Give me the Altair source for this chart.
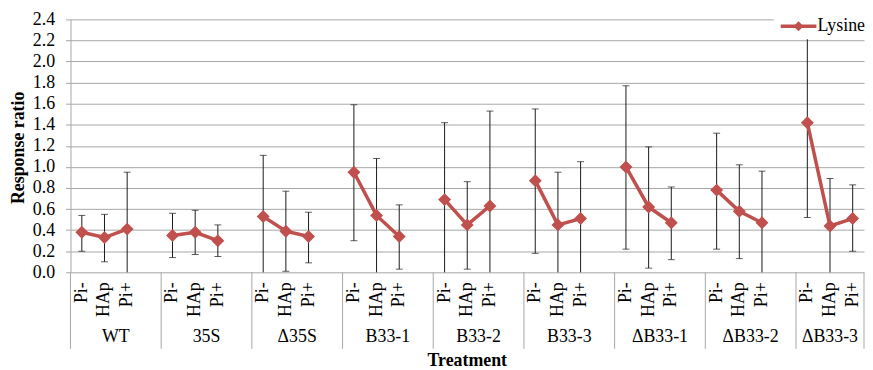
import altair as alt
import pandas as pd

groups = ["WT", "35S", "Δ35S", "B33-1", "B33-2", "B33-3", "ΔB33-1", "ΔB33-2", "ΔB33-3"]
subs = ["Pi-", "HAp", "Pi+"]
values = [0.38, 0.33, 0.41, 0.35, 0.38, 0.30, 0.53, 0.39, 0.34,
          0.95, 0.54, 0.34, 0.69, 0.45, 0.63, 0.87, 0.45, 0.51,
          1.00, 0.62, 0.47, 0.78, 0.58, 0.47, 1.42, 0.44, 0.51]
upper = [0.54, 0.55, 0.95, 0.56, 0.59, 0.45, 1.11, 0.77, 0.57,
         1.59, 1.08, 0.64, 1.42, 0.86, 1.53, 1.55, 0.95, 1.05,
         1.77, 1.19, 0.81, 1.32, 1.02, 0.96, 2.32, 0.89, 0.83]
lower = [0.20, 0.10, 0.00, 0.14, 0.17, 0.15, 0.00, 0.01, 0.09,
         0.30, 0.00, 0.03, 0.00, 0.03, 0.00, 0.18, 0.00, 0.00,
         0.22, 0.04, 0.12, 0.22, 0.13, 0.00, 0.52, 0.00, 0.20]
y_ticks = [0.0, 0.2, 0.4, 0.6, 0.8, 1.0, 1.2, 1.4, 1.6, 1.8, 2.0, 2.2, 2.4]
series_name = "Lysine"

# Excel-style category axis: 3 categories + 1 blank slot per group (none after the last)
SLOTS = 4
n_slots = SLOTS * (len(groups) - 1) + len(subs)
rows = []
for gi, g in enumerate(groups):
    for si, s in enumerate(subs):
        k = gi * 3 + si
        rows.append({"group": g, "sub": s, "pos": gi * SLOTS + si + 0.5,
                     "value": values[k], "lo": lower[k], "hi": upper[k]})
df = pd.DataFrame(rows)
starts = [gi * SLOTS for gi in range(len(groups))]
ends = [min(s + SLOTS, n_slots) for s in starts]
gdf = pd.DataFrame({"group": groups, "center": [(a + b) / 2 for a, b in zip(starts, ends)]})
sdf = pd.DataFrame({"sep": starts + [n_slots]})

RED = "#C0504D"
GRID = "#A6A6A6"
FONT = "Liberation Serif, Times New Roman, serif"
FS = 18
W, H = 800, 255

xs = alt.Scale(domain=[0, n_slots], nice=False, zero=False)
ys = alt.Scale(domain=[0, 2.4], nice=False)

yaxis = alt.Axis(values=y_ticks, format=".1f", grid=True, gridColor=GRID, gridWidth=1,
                 labelOverlap=False, domainColor=GRID, tickColor=GRID, tickSize=5,
                 labelFont=FONT, labelFontSize=FS, labelColor="#000000", labelPadding=11,
                 title="Response  ratio", titleFont=FONT, titleFontSize=FS, titleFontWeight="bold",
                 titleColor="#000000", titleAngle=270, titleX=-52, titleY=129,
                 titleBaseline="middle", titleAlign="center")


def Y(field):
    return alt.Y(field, scale=ys, axis=yaxis)


def X(field):
    return alt.X(field, scale=xs, axis=None)


base = alt.Chart(df)

err = base.mark_rule(color="#1a1a1a", strokeWidth=1).encode(x=X("pos:Q"), y=Y("lo:Q"), y2="hi:Q")
cap_hi = base.mark_tick(orient="horizontal", size=7, thickness=1, color="#1a1a1a").encode(
    x=X("pos:Q"), y=Y("hi:Q"))
cap_lo = base.transform_filter("datum.lo > 0").mark_tick(
    orient="horizontal", size=7, thickness=1, color="#1a1a1a").encode(x=X("pos:Q"), y=Y("lo:Q"))

line = base.mark_line(color=RED, strokeWidth=3.5).encode(
    x=X("pos:Q"), y=Y("value:Q"), detail="group:N")
pts = base.mark_point(shape="diamond", filled=True, size=170, color=RED, opacity=1).encode(
    x=X("pos:Q"), y=Y("value:Q"))

seps = alt.Chart(sdf).mark_rule(color=GRID, strokeWidth=1).encode(
    x=X("sep:Q"), y=alt.value(H), y2=alt.value(H + 77))
sublabels = base.mark_text(angle=270, align="right", baseline="middle",
                           font=FONT, fontSize=FS, color="#000000").encode(
    x=X("pos:Q"), y=alt.value(H + 10), text="sub:N")
glabels = alt.Chart(gdf).mark_text(align="center", baseline="middle",
                                   font=FONT, fontSize=FS, color="#000000").encode(
    x=X("center:Q"), y=alt.value(H + 65), text="group:N")
xtitle = alt.Chart(pd.DataFrame({"t": ["Treatment"]})).mark_text(
    align="center", baseline="middle", font=FONT, fontSize=FS, fontWeight="bold",
    color="#000000").encode(x=alt.value(W / 2), y=alt.value(H + 89), text="t:N")

leg_df = pd.DataFrame({"label": [series_name]})
leg_bg = alt.Chart(leg_df).mark_rect(color="white").encode(
    x=alt.value(709), x2=alt.value(802), y=alt.value(-10), y2=alt.value(20))
leg_line = alt.Chart(leg_df).mark_rule(color=RED, strokeWidth=3.5).encode(
    x=alt.value(716), x2=alt.value(752), y=alt.value(7))
leg_pt = alt.Chart(leg_df).mark_point(shape="diamond", filled=True, size=100, color=RED,
                                      opacity=1).encode(x=alt.value(734), y=alt.value(7))
leg_txt = alt.Chart(leg_df).mark_text(align="left", baseline="middle", font=FONT, fontSize=FS,
                                      color="#000000").encode(
    x=alt.value(753), y=alt.value(7), text="label:N")

chart = alt.layer(err, cap_hi, cap_lo, line, pts, seps, sublabels, glabels, xtitle,
                  leg_bg, leg_line, leg_pt, leg_txt).properties(
    width=W, height=H, autosize="none",
    padding={"left": 63, "top": 10, "right": 1, "bottom": 97},
).configure_view(strokeWidth=0)

chart.save("out.html", embed_options={"renderer": "svg", "actions": False})
